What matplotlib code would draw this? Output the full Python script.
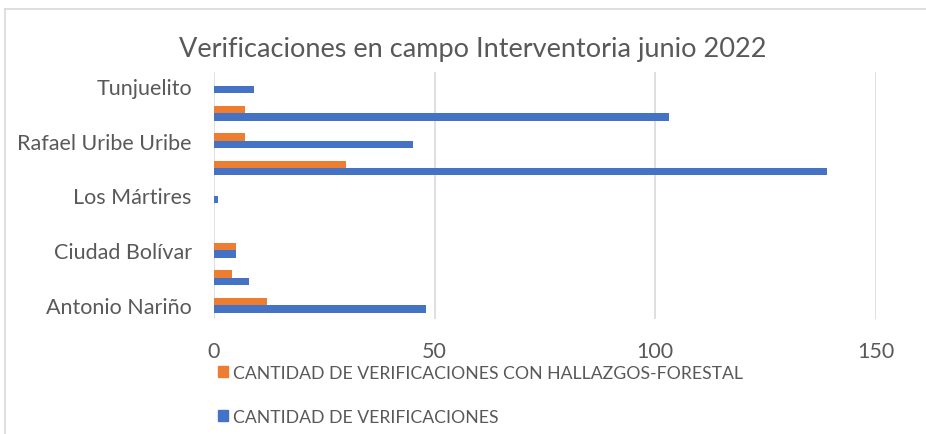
import matplotlib
matplotlib.use("Agg")
import matplotlib.pyplot as plt
import numpy as np
from matplotlib.patches import Patch

# localidades (de abajo hacia arriba, como en la grafica)
localidades = ["Antonio Nariño", "Bosa", "Ciudad Bolívar", "Kennedy", "Los Mártires",
               "Puente Aranda", "Rafael Uribe Uribe", "San Cristóbal", "Tunjuelito"]
verificaciones = [48, 8, 5, 0, 1, 139, 45, 103, 9]
hallazgos_forestal = [12, 4, 5, 0, 0, 30, 7, 7, 0]
x_ticks = [0, 50, 100, 150]

BLUE = "#4472C4"
ORANGE = "#ED7D31"
GRAY_TXT = "#595959"
GRID = "#d9d9d9"

plt.rcParams['font.family'] = ['Lato', 'DejaVu Sans']

W, H = 926, 435
fig = plt.figure(figsize=(W / 100, H / 100), dpi=100)
ax = fig.add_axes([214 / W, 1 - 320 / H, (876 - 214) / W, (320 - 73) / H])

y = np.arange(len(localidades))
bh = 0.27
ax.barh(y - bh / 2, verificaciones, height=bh, color=BLUE, zorder=3)
ax.barh(y + bh / 2, hallazgos_forestal, height=bh, color=ORANGE, zorder=3)

ax.set_xlim(0, 150)
ax.set_ylim(-0.5, len(localidades) - 0.5)
ax.set_xticks(x_ticks)
ax.set_xticklabels([str(t) for t in x_ticks], fontsize=15.5, color=GRAY_TXT)
ax.set_yticks(y)
ax.set_yticklabels([lab if i % 2 == 0 else "" for i, lab in enumerate(localidades)],
                   fontsize=15.5, color=GRAY_TXT)
ax.tick_params(length=0)
ax.tick_params(axis='x', pad=16)
ax.tick_params(axis='y', pad=16)
ax.grid(axis='x', color=GRID, linewidth=1.2, zorder=0)
for s in ax.spines.values():
    s.set_visible(False)

fig.text(473 / W, 1 - 49 / H, "Verificaciones en campo Interventoria junio 2022",
         ha='center', va='center', fontsize=19.5, color=GRAY_TXT)

handles = [Patch(color=ORANGE, label="CANTIDAD DE VERIFICACIONES CON HALLAZGOS-FORESTAL"),
           Patch(color=BLUE, label="CANTIDAD DE VERIFICACIONES")]
fig.legend(handles=handles, loc='upper left', bbox_to_anchor=(209 / W, 1 - 357 / H),
           frameon=False, fontsize=12.7, labelcolor=GRAY_TXT, handlelength=0.55,
           handleheight=0.55, handletextpad=0.3, labelspacing=1.6, borderpad=0)

# borde del area del grafico
fig.add_artist(plt.Line2D([5 / W, 5 / W], [0, 1 - 10 / H], color=GRID, lw=1.2,
                          transform=fig.transFigure))
fig.add_artist(plt.Line2D([5 / W, 1], [1 - 10 / H, 1 - 10 / H], color=GRID, lw=1.2,
                          transform=fig.transFigure))

fig.savefig("out.png", dpi=100)
